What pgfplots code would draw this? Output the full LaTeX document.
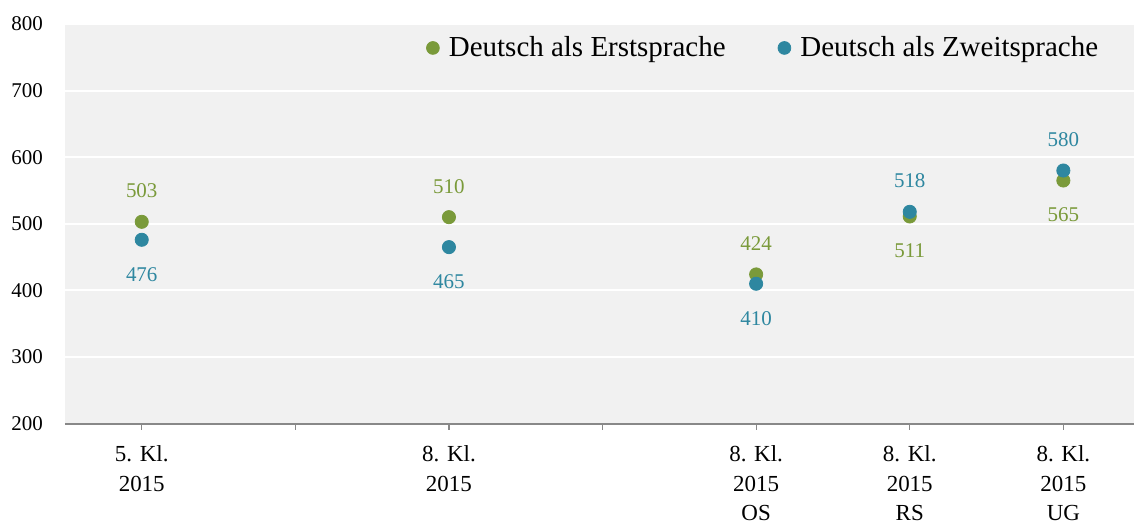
\documentclass[border=0pt]{standalone}
\usepackage{fontspec}
\setmainfont{Liberation Serif}
\usepackage{pgfplots}
\pgfplotsset{compat=1.18}
\usepackage{pgfplotstable}

\definecolor{erst}{HTML}{7A9A3A}
\definecolor{zweit}{HTML}{2E87A0}
\definecolor{plotbg}{HTML}{F1F1F1}
\definecolor{axisgray}{HTML}{888888}

% x: slot position (1 and 3 stay empty), pos: +1 label above, -1 label below
\pgfplotstableread{
x y pos
0 503 1
2 510 1
4 424 1
5 511 -1
6 565 -1
}\erstsprache
\pgfplotstableread{
x y pos
0 476 -1
2 465 -1
4 410 -1
5 518 1
6 580 1
}\zweitsprache

\begin{document}
\begin{tikzpicture}
\begin{axis}[
    scale only axis,
    width=535pt,
    height=200pt,
    xmin=-0.5, xmax=6.46,
    ymin=200, ymax=800,
    ytick={200,300,...,800},
    xtick={0,1,2,3,4,5,6},
    xticklabels={{5. Kl.\\2015},{},{8. Kl.\\2015},{},{8. Kl.\\2015\\OS},{8. Kl.\\2015\\RS},{8. Kl.\\2015\\UG}},
    xticklabel style={align=center,font=\fontsize{11.5}{14.75}\selectfont,yshift=-4.5pt},
    yticklabel style={font=\fontsize{10.5}{12}\selectfont,xshift=-7.5pt},
    /pgf/number format/assume math mode=true,
    /pgf/number format/1000 sep={},
    axis background/.style={fill=plotbg},
    axis line style={draw=none},
    axis x line*=bottom,
    x axis line style={draw=axisgray,line width=1pt},
    ymajorgrids,
    grid style={white,line width=1pt},
    major tick length=3pt,
    xtick style={axisgray,line width=0.6pt},
    xtick pos=bottom,
    xtick align=outside,
    ytick style={draw=none},
    legend style={at={(0.654,0.94)},anchor=center,draw=none,fill=none,
        legend columns=2,font=\fontsize{14.5}{16}\selectfont,
        /tikz/every even column/.append style={column sep=24pt}},
    legend cell align=left,
    legend image code/.code={\fill[#1] (0pt,0pt) circle (3.2pt);\path (5.8pt,0pt);},
    clip=false,
]
\addplot[only marks,mark=*,mark size=3.3pt,color=erst,
    visualization depends on={\thisrow{pos}\as\pos},
    nodes near coords,
    point meta=explicit,
    every node near coord/.append style={anchor=center,yshift={(\pos>0 ? 15.5 : -17)*1pt},
        text=erst,font=\fontsize{10.5}{12}\selectfont}]
    table[x=x,y=y,meta=y]{\erstsprache};
\addlegendentry{Deutsch als Erstsprache}
\addplot[only marks,mark=*,mark size=3.3pt,color=zweit,
    visualization depends on={\thisrow{pos}\as\pos},
    nodes near coords,
    point meta=explicit,
    every node near coord/.append style={anchor=center,yshift={(\pos>0 ? 15.5 : -17.5)*1pt},
        text=zweit,font=\fontsize{10.5}{12}\selectfont}]
    table[x=x,y=y,meta=y]{\zweitsprache};
\addlegendentry{Deutsch als Zweitsprache}
% page margins as in the reference
\path (rel axis cs:0,1) ++(-32.5pt,12pt) coordinate (tl);
\path (tl) rectangle (tl);
\end{axis}
\end{tikzpicture}
\end{document}
